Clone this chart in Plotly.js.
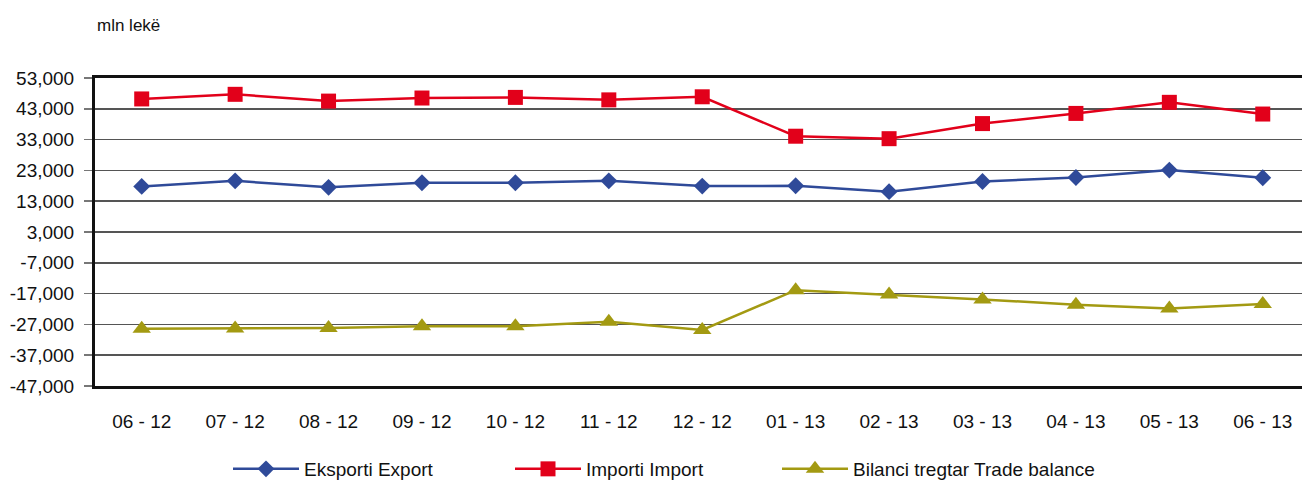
<!DOCTYPE html>
<html>
<head>
<meta charset="utf-8">
<script src="https://cdn.plot.ly/plotly-3.0.1.min.js"></script>
<style>html,body{margin:0;padding:0;background:#fff;}#chart{width:1302px;height:483px;}</style>
</head>
<body>
<div id="chart"></div>
<script>
const categories = ["06 - 12","07 - 12","08 - 12","09 - 12","10 - 12","11 - 12","12 - 12","01 - 13","02 - 13","03 - 13","04 - 13","05 - 13","06 - 13"];
const exportValues = [17800, 19600, 17500, 19000, 19000, 19600, 17900, 18000, 16100, 19400, 20700, 23100, 20600];
const importValues = [46200, 47700, 45500, 46500, 46700, 45900, 46900, 34100, 33300, 38200, 41500, 45100, 41300];
const balanceValues = [-28400, -28300, -28200, -27600, -27600, -26100, -28800, -15900, -17300, -18900, -20600, -21800, -20400];
const seriesNames = ["Eksporti Export", "Importi Import", "Bilanci tregtar Trade balance"];
const yTicks = [53000, 43000, 33000, 23000, 13000, 3000, -7000, -17000, -27000, -37000, -47000];

const FONT = "Liberation Sans, Arial, sans-serif";
const traces = [
  {x: categories, y: exportValues, name: seriesNames[0], type: "scatter", mode: "lines+markers",
   line: {color: "#2f4a99", width: 2.5}, marker: {symbol: "diamond", size: 13, color: "#2f4a99"}, legend: "legend"},
  {x: categories, y: importValues, name: seriesNames[1], type: "scatter", mode: "lines+markers",
   line: {color: "#e2001a", width: 2.5}, marker: {symbol: "square", size: 15, color: "#e2001a"}, legend: "legend2"},
  {x: categories, y: balanceValues, name: seriesNames[2], type: "scatter", mode: "lines+markers",
   line: {color: "#a39a12", width: 2.5}, marker: {symbol: "triangle-up", size: 16, color: "#a39a12"}, legend: "legend3"}
];

const legendBase = {orientation: "h", yref: "container", xref: "container", yanchor: "middle", xanchor: "left",
  y: 1 - 469 / 483, font: {family: FONT, size: 19, color: "#111"}, bgcolor: "rgba(0,0,0,0)", itemwidth: 66};

const layout = {
  width: 1302, height: 483,
  margin: {l: 95, r: 0, t: 78, b: 97},
  paper_bgcolor: "#fff", plot_bgcolor: "#fff",
  font: {family: FONT, size: 19, color: "#111"},
  xaxis: {type: "category", range: [-0.5, 12.42], showgrid: false, zeroline: false,
    showline: true, mirror: true, linecolor: "#111", linewidth: 3, ticks: "",
    ticklabelstandoff: 16, tickfont: {family: FONT, size: 19, color: "#111"}},
  yaxis: {range: [-47000, 53000], tickvals: yTicks, ticktext: yTicks.map(v => v.toLocaleString("en-US")),
    showgrid: true, gridcolor: "#555", gridwidth: 1.5, zeroline: false,
    showline: true, linecolor: "#111", linewidth: 3, ticks: "outside", ticklen: 8, tickcolor: "#777", tickwidth: 1.5,
    ticklabelstandoff: 6, tickfont: {family: FONT, size: 19, color: "#111"}},
  showlegend: true,
  legend: Object.assign({}, legendBase, {x: 228 / 1302}),
  legend2: Object.assign({}, legendBase, {x: 510 / 1302}),
  legend3: Object.assign({}, legendBase, {x: 777 / 1302}),
  annotations: [{text: "mln lekë", xref: "paper", yref: "paper", x: 0, xanchor: "left",
    y: (386 - 25) / 308, yanchor: "middle", showarrow: false, font: {family: FONT, size: 17, color: "#111"}}]
};
Plotly.newPlot("chart", traces, layout, {displayModeBar: false, staticPlot: true});
</script>
</body>
</html>
